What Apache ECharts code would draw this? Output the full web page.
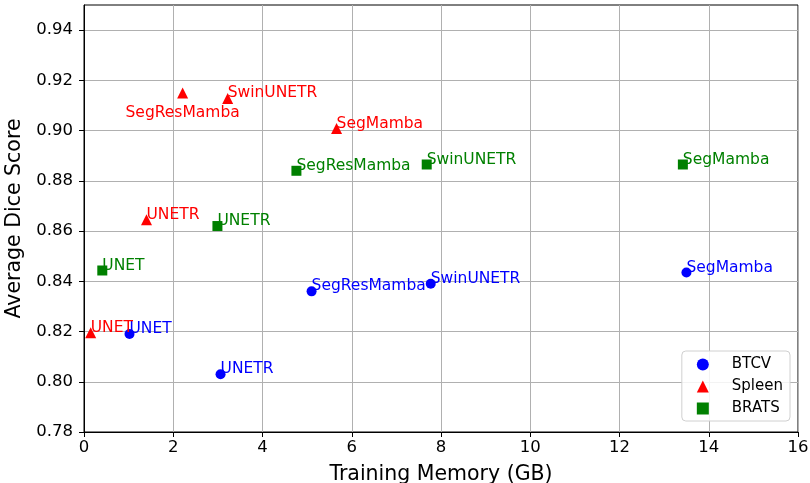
<!DOCTYPE html>
<html>
<head>
<meta charset="utf-8">
<script src="https://cdn.jsdelivr.net/npm/echarts@6/dist/echarts.min.js"></script>
<style>html,body{margin:0;padding:0;background:#fff}#c{width:810px;height:483px}</style>
</head>
<body>
<div id="c"></div>
<script>
// Data
const models = ['UNET', 'UNETR', 'SwinUNETR', 'SegMamba', 'SegResMamba'];
const btcvMemory = [1.02, 3.06, 7.77, 13.50, 5.10];
const btcvDice = [0.819, 0.803, 0.839, 0.8435, 0.836];
const spleenMemory = [0.15, 1.40, 3.22, 5.66, 2.21];
const spleenDice = [0.8195, 0.8645, 0.9128, 0.9008, 0.915];
const bratsMemory = [0.41, 2.99, 7.68, 13.42, 4.76];
const bratsDice = [0.8443, 0.862, 0.8865, 0.8865, 0.884];
const xTicks = [0, 2, 4, 6, 8, 10, 12, 14, 16];
const yTicks = [0.78, 0.80, 0.82, 0.84, 0.86, 0.88, 0.90, 0.92, 0.94];

const FONT = 'DejaVu Sans';
function pts(xs, ys, special) {
  return xs.map((x, i) => {
    const d = { value: [x, ys[i]], name: models[i] };
    if (special && special[models[i]]) d.label = special[models[i]];
    return d;
  });
}
const baseLabel = {
  show: true,
  position: ['50%', '50%'],
  align: 'left',
  verticalAlign: 'bottom',
  offset: [0, 3],
  fontFamily: FONT,
  fontSize: 15.5,
  formatter: p => p.name
};
function series(name, color, symbol, size, xs, ys, special) {
  return {
    name, type: 'scatter', symbol, symbolSize: size,
    itemStyle: { color, opacity: 1 },
    label: Object.assign({}, baseLabel, { color }),
    data: pts(xs, ys, special),
    z: 3
  };
}

const chart = echarts.init(document.getElementById('c'));
chart.setOption({
  animation: false,
  backgroundColor: '#fff',
  grid: { left: 84, right: 12, top: 5, bottom: 51, outerBoundsMode: 'none', containLabel: false, show: true, borderColor: '#000', borderWidth: 1, backgroundColor: 'transparent' },
  xAxis: {
    type: 'value', min: 0, max: 16, interval: 2,
    name: 'Training Memory (GB)', nameLocation: 'middle', nameGap: 32,
    nameTextStyle: { fontFamily: FONT, fontSize: 20.5, color: '#000' },
    axisLine: { show: true, lineStyle: { color: '#000' } },
    axisTick: { show: true, inside: false, length: 5, lineStyle: { color: '#000' } },
    axisLabel: { fontFamily: FONT, fontSize: 16.5, color: '#000', margin: 7, customValues: xTicks },
    splitLine: { show: true, lineStyle: { color: '#b0b0b0', width: 1 } }
  },
  yAxis: {
    type: 'value', min: 0.78, max: 0.95, interval: 0.02,
    name: 'Average Dice Score', nameLocation: 'middle', nameGap: 54,
    nameTextStyle: { fontFamily: FONT, fontSize: 20.5, color: '#000' },
    axisLine: { show: true, lineStyle: { color: '#000' } },
    axisTick: { show: true, inside: false, length: 5, lineStyle: { color: '#000' }, customValues: yTicks },
    axisLabel: { fontFamily: FONT, fontSize: 16.5, color: '#000', margin: 11, customValues: yTicks, formatter: v => v.toFixed(2) },
    splitLine: { show: true, lineStyle: { color: '#b0b0b0', width: 1 } }
  },
  legend: {
    orient: 'vertical', right: 20, bottom: 62,
    data: ['BTCV', 'Spleen', 'BRATS'],
    itemWidth: 12, itemHeight: 12, itemGap: 7,
    padding: [6, 7, 5, 15],
    borderColor: '#d0d0d0', borderWidth: 1, borderRadius: 4,
    backgroundColor: 'rgba(255,255,255,0.85)',
    textStyle: { fontFamily: FONT, fontSize: 15, color: '#000', padding: [0, 0, 0, 18] }
  },
  series: [
    series('BTCV', '#0000ff', 'circle', 10, btcvMemory, btcvDice),
    series('Spleen', '#ff0000', 'triangle', 11, spleenMemory, spleenDice, {
      SegResMamba: Object.assign({}, baseLabel, { color: '#ff0000', align: 'center', verticalAlign: 'bottom', offset: [0, 28] })
    }),
    series('BRATS', '#008000', 'rect', 10, bratsMemory, bratsDice)
  ]
});
</script>
</body>
</html>
